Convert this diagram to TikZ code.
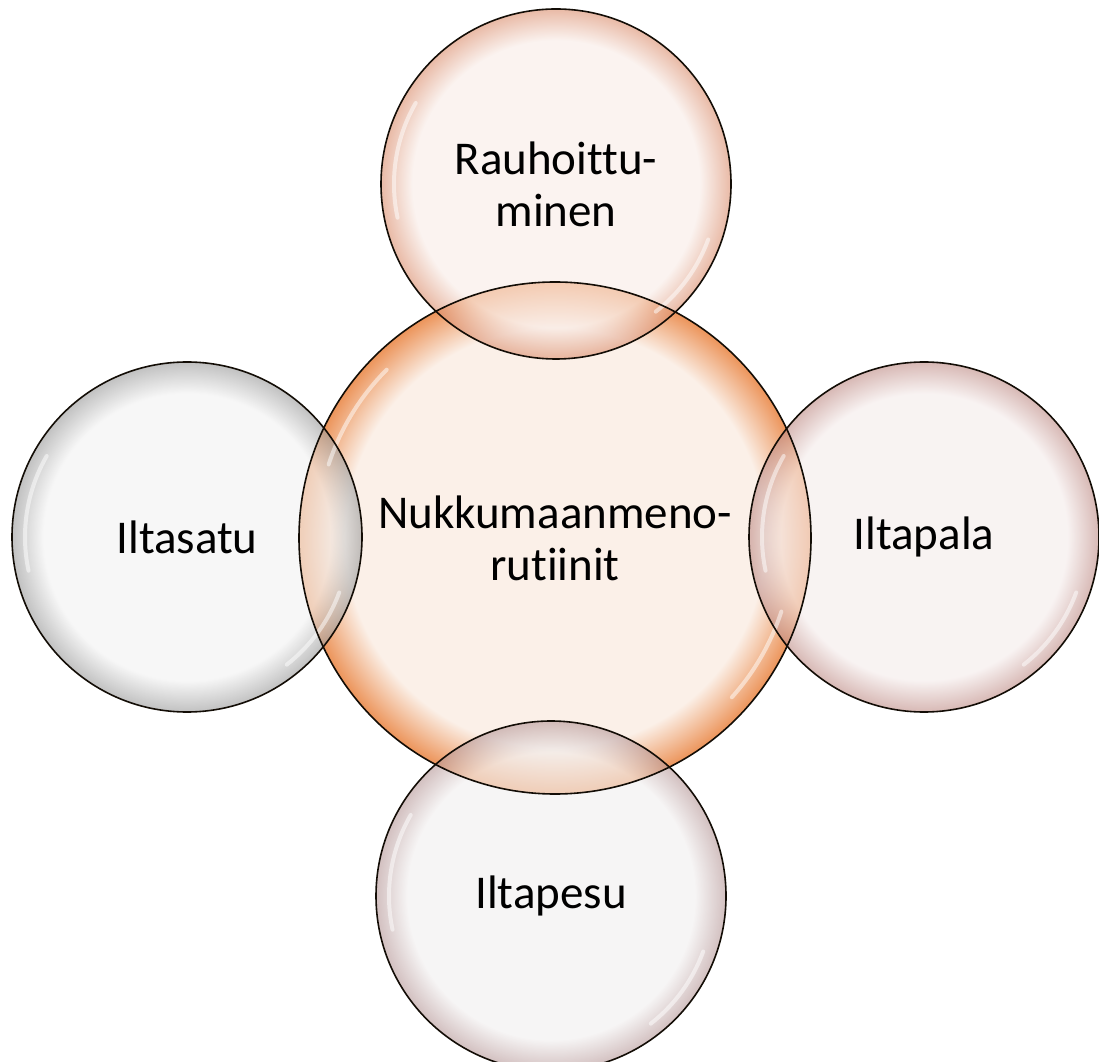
\documentclass[tikz,border=0pt]{standalone}
\usepackage{fontspec}
\setmainfont{Carlito}[Ligatures={NoCommon,NoContextual}]
\definecolor{cCin}{HTML}{FBF0E8}
\definecolor{cCout}{HTML}{EC945A}
\definecolor{cTin}{HTML}{F9EDE8}
\definecolor{cTout}{HTML}{DC9070}
\definecolor{cRin}{HTML}{F5ECEB}
\definecolor{cRout}{HTML}{C08E88}
\definecolor{cBin}{HTML}{F2F0F0}
\definecolor{cBout}{HTML}{B89A9A}
\definecolor{cLin}{HTML}{F3F3F3}
\definecolor{cLout}{HTML}{9C9C9C}
\pgfdeclareradialshading{shC}{\pgfpoint{0bp}{0bp}}{color(0bp)=(cCin); color(20.5bp)=(cCin); color(25bp)=(cCout); color(50bp)=(cCout)}
\pgfdeclareradialshading{shT}{\pgfpoint{0bp}{0bp}}{color(0bp)=(cTin); color(20.5bp)=(cTin); color(25bp)=(cTout); color(50bp)=(cTout)}
\pgfdeclareradialshading{shR}{\pgfpoint{0bp}{0bp}}{color(0bp)=(cRin); color(20.5bp)=(cRin); color(25bp)=(cRout); color(50bp)=(cRout)}
\pgfdeclareradialshading{shB}{\pgfpoint{0bp}{0bp}}{color(0bp)=(cBin); color(20.5bp)=(cBin); color(25bp)=(cBout); color(50bp)=(cBout)}
\pgfdeclareradialshading{shL}{\pgfpoint{0bp}{0bp}}{color(0bp)=(cLin); color(20.5bp)=(cLin); color(25bp)=(cLout); color(50bp)=(cLout)}
\begin{document}
\begin{tikzpicture}[x=1pt,y=1pt,
  bubble/.style={circle, inner sep=0pt, outer sep=0pt, shade, shading=#1,
    font=\fontsize{47}{52}\selectfont, align=center, text=black},
  sat/.style={bubble=#1, minimum size=350pt, fill opacity=0.62, text opacity=1},
  rimline/.style={draw=black!90!brown, line width=1.6pt},
  hl/.style={draw=white, line width=4pt, line cap=round, opacity=0.5}]
\useasboundingbox (0,0) rectangle (1099,1061);
\fill[white] (0,0) rectangle (1099,1061);
% central
\node[bubble=shC, minimum size=512pt] (C) at (555,523) {Nukkumaanmeno-\\rutiinit};
% satellites
\node[sat=shT] (T) at (556,877) {Rauhoittu-\\minen};
\node[sat=shL] (L) at (187,524) {Iltasatu};
\node[sat=shR] (R) at (924,524) {Iltapala};
\node[sat=shB] (B) at (551,165) {Iltapesu};
% highlights
\draw[hl] ([shift={(135:238)}]C.center) arc[start angle=135, end angle=162, radius=238];
\draw[hl] ([shift={(-42:238)}]C.center) arc[start angle=-42, end angle=-18, radius=238];
\foreach \n in {T,L,R,B}{
  \draw[hl] ([shift={(150:162)}]\n.center) arc[start angle=150, end angle=192, radius=162];
  \draw[hl] ([shift={(-52:162)}]\n.center) arc[start angle=-52, end angle=-20, radius=162];
}
% outlines
\draw[rimline] (C.center) circle[radius=256];
\foreach \n in {T,L,R,B}{
  \draw[rimline] (\n.center) circle[radius=175];
}
\end{tikzpicture}
\end{document}
